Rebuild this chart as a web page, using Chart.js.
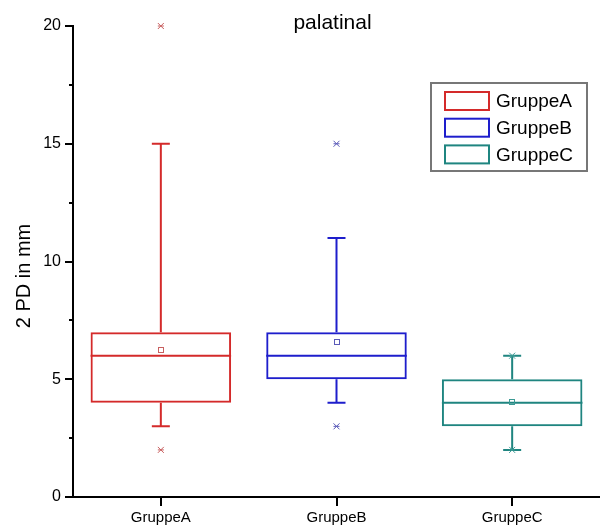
<!DOCTYPE html>
<html>
<head>
<meta charset="utf-8">
<script src="https://cdn.jsdelivr.net/npm/chart.js@4"></script>
<style>
  html, body { margin: 0; padding: 0; background: #fff; }
  #wrap { width: 600px; height: 530px; }
</style>
</head>
<body>
<div id="wrap"><canvas id="chart" width="600" height="530"></canvas></div>
<script>
const categories = ['GruppeA', 'GruppeB', 'GruppeC'];
const q1 = [4, 5, 3];
const q3 = [7, 7, 5];
const medians = [6, 6, 4];
const whiskerLow = [3, 4, 2];
const whiskerHigh = [15, 11, 6];
const means = [6.25, 6.6, 4.05];
const minVals = [2, 3, 2];
const maxVals = [20, 15, 6];
const yTicks = [0, 5, 10, 15, 20];
const yMinorTicks = [2.5, 7.5, 12.5, 17.5];

const boxColors = ['#d42a2a', '#1e1ecc', '#1f8580'];
const markColors = ['#c86060', '#5a5ab8', '#3c9a94'];
const FONT = 'Arial, "Liberation Sans", sans-serif';

const boxExtras = {
  id: 'boxExtras',
  afterDatasetsDraw(chart) {
    const ctx = chart.ctx;
    const x = chart.scales.x, y = chart.scales.y;
    const bars = chart.getDatasetMeta(0).data;
    const cap = 9;
    ctx.save();
    categories.forEach((c, i) => {
      const cx = x.getPixelForValue(i);
      const half = bars[i].width / 2;
      ctx.strokeStyle = boxColors[i];
      ctx.lineWidth = 2;
      ctx.beginPath();
      // median
      ctx.moveTo(cx - half, y.getPixelForValue(medians[i]));
      ctx.lineTo(cx + half, y.getPixelForValue(medians[i]));
      // whiskers
      ctx.moveTo(cx, y.getPixelForValue(q3[i]));
      ctx.lineTo(cx, y.getPixelForValue(whiskerHigh[i]));
      ctx.moveTo(cx - cap, y.getPixelForValue(whiskerHigh[i]));
      ctx.lineTo(cx + cap, y.getPixelForValue(whiskerHigh[i]));
      ctx.moveTo(cx, y.getPixelForValue(q1[i]));
      ctx.lineTo(cx, y.getPixelForValue(whiskerLow[i]));
      ctx.moveTo(cx - cap, y.getPixelForValue(whiskerLow[i]));
      ctx.lineTo(cx + cap, y.getPixelForValue(whiskerLow[i]));
      ctx.stroke();

      // mean square
      ctx.strokeStyle = markColors[i];
      ctx.lineWidth = 1;
      const my = y.getPixelForValue(means[i]);
      ctx.strokeRect(Math.round(cx) - 2.5, Math.round(my) - 2.5, 5, 5);

      // min / max markers
      [minVals[i], maxVals[i]].forEach(v => {
        const py = y.getPixelForValue(v);
        ctx.beginPath();
        ctx.moveTo(cx - 3, py - 3); ctx.lineTo(cx + 3, py + 3);
        ctx.moveTo(cx + 3, py - 3); ctx.lineTo(cx - 3, py + 3);
        ctx.moveTo(cx - 3, py); ctx.lineTo(cx + 3, py);
        ctx.stroke();
      });
    });
    ctx.restore();
  },
  afterDraw(chart) {
    const ctx = chart.ctx;
    const area = chart.chartArea;
    const y = chart.scales.y;
    ctx.save();

    // minor ticks on y axis
    ctx.strokeStyle = '#000';
    ctx.lineWidth = 2;
    ctx.beginPath();
    yMinorTicks.forEach(v => {
      const py = Math.round(y.getPixelForValue(v));
      ctx.moveTo(area.left - 4, py);
      ctx.lineTo(area.left, py);
    });
    ctx.stroke();

    // title
    ctx.fillStyle = '#000';
    ctx.font = '21px ' + FONT;
    ctx.textAlign = 'center';
    ctx.textBaseline = 'alphabetic';
    ctx.fillText('palatinal', (area.left + area.right) / 2 - 4, 29);

    // y axis title
    ctx.save();
    ctx.translate(30, 276);
    ctx.rotate(-Math.PI / 2);
    ctx.font = '20px ' + FONT;
    ctx.textAlign = 'center';
    ctx.textBaseline = 'alphabetic';
    ctx.fillText('2 PD in mm', 0, 0);
    ctx.restore();

    // legend
    const lx = area.right - 169, ly = area.top + 57;
    ctx.strokeStyle = '#777';
    ctx.lineWidth = 2;
    ctx.strokeRect(lx, ly, 156, 88);
    ctx.font = '19px ' + FONT;
    ctx.textAlign = 'left';
    ctx.textBaseline = 'middle';
    categories.forEach((c, i) => {
      const ry = ly + 9 + i * 26.7;
      ctx.strokeStyle = boxColors[i];
      ctx.lineWidth = 2;
      ctx.strokeRect(lx + 14, ry, 44, 18);
      ctx.fillStyle = '#000';
      ctx.fillText(c, lx + 65, ry + 10);
    });
    ctx.restore();
  }
};

new Chart(document.getElementById('chart'), {
  type: 'bar',
  data: {
    labels: categories,
    datasets: [{
      data: categories.map((c, i) => [q1[i], q3[i]]),
      backgroundColor: 'rgba(0,0,0,0)',
      borderColor: boxColors,
      borderWidth: 2,
      borderSkipped: false,
      barPercentage: 0.8,
      categoryPercentage: 1
    }]
  },
  options: {
    responsive: false,
    animation: false,
    layout: { padding: { top: 26, right: 0, left: 0, bottom: 0 } },
    plugins: { legend: { display: false }, tooltip: { enabled: false }, title: { display: false } },
    scales: {
      x: {
        afterFit: s => { s.height = 33; },
        border: { display: true, color: '#000', width: 2 },
        grid: { display: true, drawOnChartArea: false, offset: false, tickLength: 9, color: '#000', lineWidth: 2 },
        ticks: { color: '#000', padding: 3, font: { size: 15, family: FONT } }
      },
      y: {
        min: 0,
        max: 20,
        afterFit: s => { s.width = 73; },
        afterBuildTicks: s => { s.ticks = yTicks.map(v => ({ value: v })); },
        border: { display: true, color: '#000', width: 2 },
        grid: { display: true, drawOnChartArea: false, tickLength: 8, color: '#000', lineWidth: 2 },
        ticks: { color: '#000', padding: 4, font: { size: 16, family: FONT } }
      }
    }
  },
  plugins: [boxExtras]
});
</script>
</body>
</html>
